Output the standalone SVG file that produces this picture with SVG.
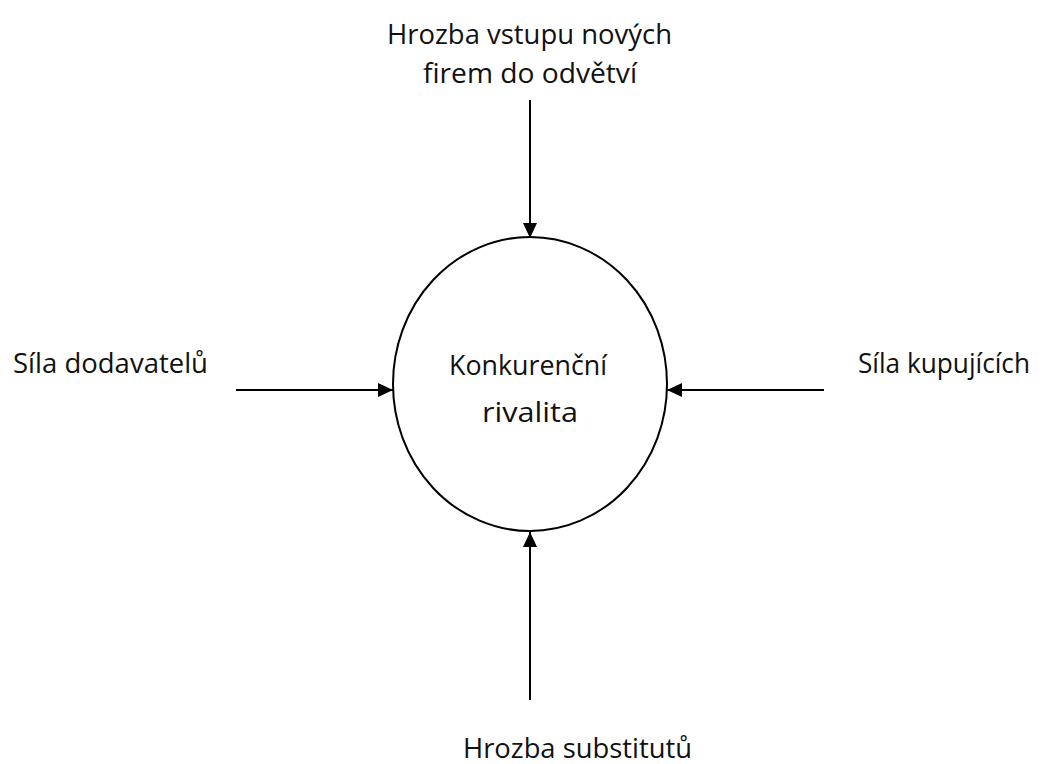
<svg xmlns="http://www.w3.org/2000/svg" width="1044" height="764" viewBox="0 0 1044 764">
  <style>
    .lbl { font-family: "Open Sans", "Noto Sans", "Liberation Sans", sans-serif; font-size: 27px; fill: #111; }
    .edge { stroke: #000; stroke-width: 2; fill: none; }
  </style>
  <defs>
    <marker id="arrow" markerUnits="userSpaceOnUse" markerWidth="15" markerHeight="14" refX="15" refY="7" orient="auto">
      <path d="M0,0 L15,7 L0,14 z" fill="#000"/>
    </marker>
  </defs>
  <rect width="1044" height="764" fill="#fff"/>

  <!-- central force -->
  <g id="rivalry">
    <ellipse cx="530" cy="384" rx="137" ry="147" fill="none" stroke="#000" stroke-width="2"/>
    <text class="lbl" x="449" y="375" textLength="158" lengthAdjust="spacingAndGlyphs">Konkurenční</text>
    <text class="lbl" x="482" y="422" textLength="96" lengthAdjust="spacingAndGlyphs">rivalita</text>
  </g>

  <g id="entrants">
    <text class="lbl" x="387" y="44" textLength="285" lengthAdjust="spacingAndGlyphs">Hrozba vstupu nových</text>
    <text class="lbl" x="423" y="83" textLength="214" lengthAdjust="spacingAndGlyphs">firem do odvětví</text>
  </g>

  <g id="suppliers">
    <text class="lbl" x="13" y="373" textLength="195" lengthAdjust="spacingAndGlyphs">Síla dodavatelů</text>
  </g>

  <g id="buyers">
    <text class="lbl" x="858" y="373" textLength="172" lengthAdjust="spacingAndGlyphs">Síla kupujících</text>
  </g>

  <g id="substitutes">
    <text class="lbl" x="463" y="758" textLength="229" lengthAdjust="spacingAndGlyphs">Hrozba substitutů</text>
  </g>

  <!-- arrows pointing into the central force -->
  <g id="connectors">
    <line class="edge" x1="530" y1="100" x2="530" y2="238" marker-end="url(#arrow)"/>
    <line class="edge" x1="530" y1="700" x2="530" y2="532" marker-end="url(#arrow)"/>
    <line class="edge" x1="236" y1="390" x2="393" y2="390" marker-end="url(#arrow)"/>
    <line class="edge" x1="824" y1="390" x2="667" y2="390" marker-end="url(#arrow)"/>
  </g>
</svg>
